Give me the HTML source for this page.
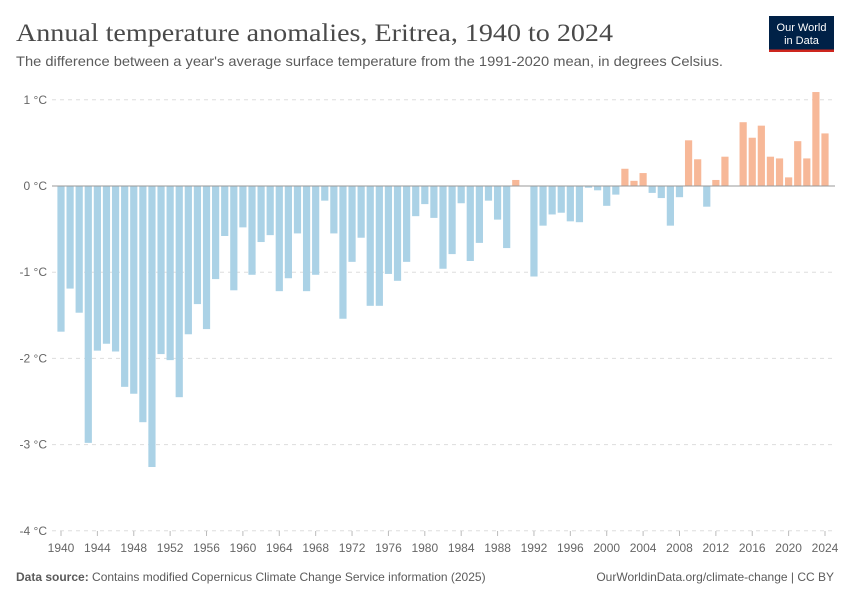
<!DOCTYPE html>
<html><head><meta charset="utf-8"><style>
body{margin:0;background:#fff;}
svg{display:block;font-family:"Liberation Sans",sans-serif;}
</style></head><body>
<svg id="chart" width="850" height="600" viewBox="0 0 850 600">
<text x="16" y="41" font-family="Liberation Serif,serif" font-size="25" fill="#4a4a4a" textLength="597" lengthAdjust="spacingAndGlyphs">Annual temperature anomalies, Eritrea, 1940 to 2024</text>
<text x="16" y="66" font-size="14" fill="#5b5b5b" textLength="707" lengthAdjust="spacingAndGlyphs">The difference between a year's average surface temperature from the 1991-2020 mean, in degrees Celsius.</text>
<g>
<rect x="769" y="16" width="65" height="36" fill="#002147"/>
<rect x="769" y="49.5" width="65" height="2.5" fill="#ce261e"/>
<text x="801.5" y="31" font-size="11" fill="#fff" text-anchor="middle">Our World</text>
<text x="801.5" y="44" font-size="11" fill="#fff" text-anchor="middle">in Data</text>
</g>
<g id="grid"></g><g id="bars"></g><g id="axes"></g>
<text x="16" y="581" font-size="12" fill="#5b5b5b"><tspan font-weight="bold">Data source:</tspan> Contains modified Copernicus Climate Change Service information (2025)</text>
<text x="834" y="581" font-size="12" fill="#5b5b5b" text-anchor="end">OurWorldinData.org/climate-change | CC BY</text>
</svg>
<script>
const years=[];for(let y=1940;y<=2024;y++)years.push(y);
const values=[-1.69,-1.19,-1.47,-2.98,-1.91,-1.83,-1.92,-2.33,-2.41,-2.74,
-3.26,-1.95,-2.02,-2.45,-1.72,-1.37,-1.66,-1.08,-0.58,-1.21,
-0.48,-1.03,-0.65,-0.57,-1.22,-1.07,-0.55,-1.22,-1.03,-0.17,
-0.55,-1.54,-0.88,-0.60,-1.39,-1.39,-1.02,-1.10,-0.88,-0.35,
-0.21,-0.37,-0.96,-0.79,-0.20,-0.87,-0.66,-0.17,-0.39,-0.72,
0.07,0,-1.05,-0.46,-0.33,-0.31,-0.41,-0.42,-0.02,-0.05,
-0.23,-0.10,0.20,0.06,0.15,-0.08,-0.14,-0.46,-0.13,0.53,
0.31,-0.24,0.07,0.34,0,0.74,0.56,0.70,0.34,0.32,
0.10,0.52,0.32,1.09,0.61];
const yTicks=[1,0,-1,-2,-3,-4];
const yTickLabels=["1 °C","0 °C","-1 °C","-2 °C","-3 °C","-4 °C"];
const xTicks=[1940,1944,1948,1952,1956,1960,1964,1968,1972,1976,1980,1984,1988,1992,1996,2000,2004,2008,2012,2016,2020,2024];
const NS="http://www.w3.org/2000/svg";
const yS=v=>186-86.2*v;
const xS=y=>61+(y-1940)*(764/84);
function mk(t,a,p){const e=document.createElementNS(NS,t);for(const k in a)e.setAttribute(k,a[k]);p.appendChild(e);return e;}
const grid=document.getElementById('grid'),bars=document.getElementById('bars'),axes=document.getElementById('axes');
yTicks.forEach((t,i)=>{
 if(t!==0){const l=mk('line',{x1:52,x2:835,y1:yS(t),y2:yS(t),stroke:'#ddd','stroke-dasharray':'4,4'},grid);
 
 }
 const tx=mk('text',{x:47,y:yS(t)+4,'font-size':12,fill:'#666','text-anchor':'end'},axes);
 tx.textContent=yTickLabels[i];
 
 
});
years.forEach((yr,i)=>{
 const v=values[i];if(v===0)return;
 const y0=yS(0),y1=yS(v);
 const r=mk('rect',{x:xS(yr)-3.6,width:7.2,y:Math.min(y0,y1),height:Math.abs(y1-y0),fill:v>0?'#f7b898':'#abd2e6'},bars);
 
 
});
const z=mk('line',{x1:52,x2:835,y1:yS(0),y2:yS(0),stroke:'#999','stroke-width':1},axes);


xTicks.forEach(t=>{
 const tk=mk('line',{x1:xS(t),x2:xS(t),y1:531,y2:536,stroke:'#bbb'},axes);
 
 
 const tx=mk('text',{x:xS(t),y:552,'font-size':12,fill:'#666','text-anchor':'middle'},axes);
 tx.textContent=t;
 
 
});
</script>
</body></html>
